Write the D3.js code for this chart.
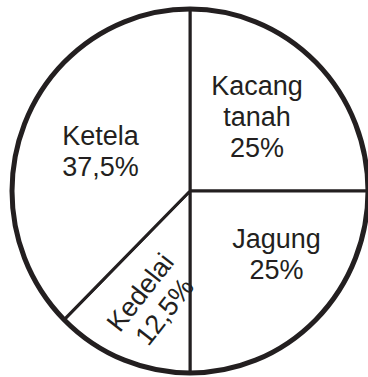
<!DOCTYPE html>
<html>
<head>
<meta charset="utf-8">
<script src="https://cdn.jsdelivr.net/npm/d3@7/dist/d3.min.js"></script>
<style>
  html, body { margin: 0; padding: 0; background: #fff; }
  svg { display: block; }
</style>
</head>
<body>
<svg id="chart" width="368" height="377"></svg>
<script>
// Crop shares (percent) shown clockwise from twelve o'clock
const categories = ["Kacang tanah", "Jagung", "Kedelai", "Ketela"];
const shares = [25, 25, 12.5, 37.5];
const labelLines = [["Kacang", "tanah", "25%"], ["Jagung", "25%"], ["Kedelai", "12,5%"], ["Ketela", "37,5%"]];

// Label placement: polar position (degrees clockwise from top, radius) and text rotation
const labelPlacement = {
  "Kacang tanah": { angle: 42, radius: 100, rotate: 0 },
  "Jagung":       { angle: 126, radius: 107, rotate: 0 },
  "Kedelai":      { angle: 199, radius: 117, rotate: -52 },
  "Ketela":       { angle: 294, radius: 98, rotate: 0 }
};

const ink = "#231f20";
const cx = 190, cy = 191, rx = 178, ry = 182;
const fontSize = 27, lineHeight = 31;

const svg = d3.select("#chart");

const data = categories.map((c, i) => ({ name: c, value: shares[i], lines: labelLines[i] }));

const pie = d3.pie().value(d => d.value).sort(null).startAngle(0).endAngle(2 * Math.PI);
const arcs = pie(data);
const arc = d3.arc().innerRadius(0).outerRadius(rx);

// Pie body, slightly taller than wide
const body = svg.append("g")
  .attr("transform", `translate(${cx},${cy}) scale(1,${ry / rx})`);

body.selectAll("path.slice")
  .data(arcs)
  .join("path")
  .attr("class", "slice")
  .attr("d", arc)
  .attr("fill", "#fff")
  .attr("stroke", ink)
  .attr("stroke-width", 3)
  .attr("stroke-linejoin", "round");

// Heavier outer rim
body.append("circle")
  .attr("r", rx)
  .attr("fill", "none")
  .attr("stroke", ink)
  .attr("stroke-width", 5);

// Labels
const labels = svg.selectAll("g.label")
  .data(arcs)
  .join("g")
  .attr("class", "label")
  .attr("transform", d => {
    const p = labelPlacement[d.data.name];
    const a = p.angle * Math.PI / 180;
    const x = cx + p.radius * Math.sin(a);
    const y = cy - p.radius * Math.cos(a);
    return `translate(${x},${y}) rotate(${p.rotate})`;
  });

labels.each(function(d) {
  const g = d3.select(this);
  const n = d.data.lines.length;
  g.selectAll("text")
    .data(d.data.lines)
    .join("text")
    .attr("x", 0)
    .attr("y", (t, i) => (i - (n - 1) / 2) * lineHeight + fontSize * 0.36)
    .attr("text-anchor", "middle")
    .attr("font-family", "'Liberation Sans', Arial, Helvetica, sans-serif")
    .attr("font-size", fontSize)
    .attr("fill", ink)
    .text(t => t);
});
</script>
</body>
</html>
